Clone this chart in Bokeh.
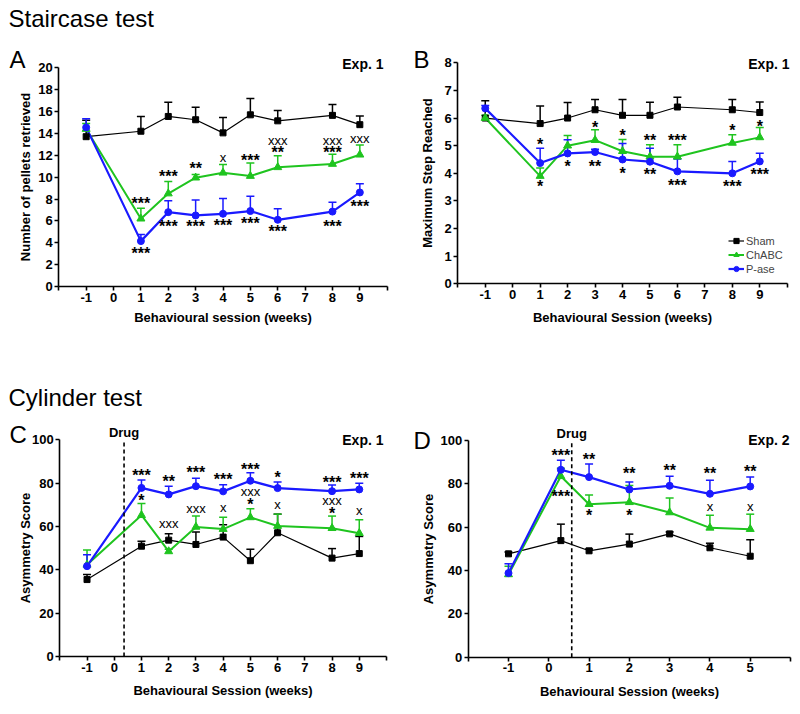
from bokeh.plotting import figure
from bokeh.models import (Range1d, FixedTicker, Whisker, TeeHead, ColumnDataSource,
                          Label, Legend, LegendItem)
from bokeh.layouts import column, row
from bokeh.core.properties import value
from bokeh.embed import file_html
from bokeh.resources import INLINE

FONT = "Liberation Sans"
BLACK = "#000000"
GREEN = "#1fc41f"
BLUE = "#1a1aff"

# ---------------- Panel A: Staircase, pellets retrieved ----------------
a_x = [-1, 1, 2, 3, 4, 5, 6, 8, 9]
a_sham = [13.7, 14.2, 15.55, 15.25, 14.05, 15.7, 15.15, 15.65, 14.8]
a_sham_err = [1.5, 1.35, 1.3, 1.15, 1.4, 1.5, 0.95, 1.0, 0.8]
a_chabc = [14.4, 6.2, 8.5, 9.95, 10.4, 10.1, 10.9, 11.2, 12.05]
a_chabc_err = [0.5, 0.95, 1.1, 0.3, 0.75, 1.2, 1.05, 0.9, 0.9]
a_pase = [14.55, 4.15, 6.8, 6.5, 6.65, 6.9, 6.1, 6.85, 8.6]
a_pase_err = [0.8, 0.6, 1.05, 1.4, 1.4, 1.35, 1.0, 0.85, 0.8]
a_star_x = [1, 1, 2, 2, 3, 3, 4, 5, 5, 6, 6, 8, 8, 9]
a_star_y = [7.9, 3.25, 10.3, 5.75, 11.05, 5.75, 5.85, 11.8, 6.05, 12.5, 5.3, 12.55, 5.8, 7.6]
a_star_t = ["***", "***", "***", "***", "**", "***", "***", "***", "***", "**", "***", "***", "***", "***"]
a_mark_x = [4, 6, 8, 9]
a_mark_y = [11.75, 13.3, 13.3, 13.4]
a_mark_t = ["x", "xxx", "xxx", "xxx"]

# ---------------- Panel B: Staircase, maximum step ----------------
b_x = [-1, 1, 2, 3, 4, 5, 6, 8, 9]
b_sham = [6.0, 5.8, 6.0, 6.3, 6.1, 6.1, 6.4, 6.3, 6.2]
b_sham_err = [0.63, 0.64, 0.56, 0.37, 0.57, 0.47, 0.35, 0.37, 0.38]
b_chabc = [6.0, 3.9, 5.0, 5.2, 4.8, 4.6, 4.6, 5.1, 5.3]
b_chabc_err = [0.1, 0.29, 0.37, 0.38, 0.42, 0.43, 0.43, 0.3, 0.36]
b_pase = [6.35, 4.37, 4.72, 4.77, 4.5, 4.42, 4.07, 4.0, 4.43]
b_pase_err = [0.1, 0.54, 0.49, 0.1, 0.58, 0.49, 0.45, 0.43, 0.3]
b_star_x = [1, 1, 2, 3, 3, 4, 4, 5, 5, 6, 6, 8, 8, 9, 9]
b_star_y = [5.15, 3.62, 4.34, 5.77, 4.34, 5.49, 4.1, 5.31, 4.07, 5.31, 3.68, 5.65, 3.62, 5.79, 4.07]
b_star_t = ["*", "*", "*", "*", "**", "*", "*", "**", "**", "***", "***", "*", "***", "*", "***"]

# ---------------- Panel C: Cylinder, Exp. 1 ----------------
c_x = [-1, 1, 2, 3, 4, 5, 6, 8, 9]
c_sham = [35.5, 50.9, 53.7, 51.7, 55.1, 44.2, 57.1, 45.4, 47.5]
c_sham_err = [2.3, 2.3, 2.9, 5.8, 5.7, 5.3, 8.6, 4.4, 7.9]
c_chabc = [42.3, 65.2, 48.5, 59.8, 58.8, 64.2, 60.2, 59.2, 56.9]
c_chabc_err = [6.9, 5.4, 1.0, 5.0, 5.5, 4.0, 5.5, 5.6, 6.2]
c_pase = [41.7, 77.8, 74.8, 78.6, 76.2, 81.1, 77.7, 76.3, 77.1]
c_pase_err = [5.2, 3.7, 3.8, 3.7, 3.0, 3.7, 2.8, 2.8, 2.9]
c_drug = 0.36
c_star_x = [1, 1, 2, 3, 4, 5, 5, 6, 8, 8, 9]
c_star_y = [85.1, 73.3, 82.0, 86.2, 83.1, 87.7, 71.3, 84.0, 81.6, 67.2, 83.6]
c_star_t = ["***", "*", "**", "***", "***", "***", "*", "*", "***", "*", "***"]
c_mark_x = [2, 3, 4, 5, 6, 8, 9]
c_mark_y = [61.0, 67.8, 68.3, 75.5, 69.8, 71.3, 66.7]
c_mark_t = ["xxx", "xxx", "x", "xxx", "x", "xxx", "x"]

# ---------------- Panel D: Cylinder, Exp. 2 ----------------
d_x = [-1, 0.3, 1, 2, 3, 4, 5]
d_sham = [47.7, 53.8, 49.1, 52.2, 56.9, 50.5, 46.6]
d_sham_err = [0.8, 7.6, 0.8, 4.6, 0.9, 2.1, 7.6]
d_chabc = [38.2, 83.5, 70.6, 71.5, 66.8, 59.7, 59.1]
d_chabc_err = [3.8, 3.7, 4.2, 7.7, 6.7, 5.8, 6.9]
d_pase = [38.8, 86.5, 83.1, 77.4, 79.1, 75.4, 78.8]
d_pase_err = [4.3, 4.4, 6.0, 3.5, 4.4, 6.3, 4.4]
d_drug = 0.57
d_star_x = [0.3, 0.3, 1, 1, 2, 2, 3, 4, 5]
d_star_y = [94.6, 75.7, 92.8, 66.6, 86.2, 66.6, 87.7, 86.2, 86.9]
d_star_t = ["***", "***", "**", "*", "**", "*", "**", "**", "**"]
d_mark_x = [4, 5]
d_mark_y = [69.2, 69.2]
d_mark_t = ["x", "x"]

series_names = ["Sham", "ChABC", "P-ase"]


def ranges(cfg):
    ox, oy, W, H = cfg["fig"]
    L, R, T, B = cfg["box"]
    x0, x1 = cfg["xd"]
    y0, y1 = cfg["yd"]
    sx = (x1 - x0) / (R - L)
    sy = (y1 - y0) / (B - T)
    return ((x0 - (L - ox) * sx, x1 + (ox + W - R) * sx),
            (y0 - (oy + H - B) * sy, y1 + (T - oy) * sy))


def px2data(cfg, px, py):
    L, R, T, B = cfg["box"]
    x0, x1 = cfg["xd"]
    y0, y1 = cfg["yd"]
    sx = (x1 - x0) / (R - L)
    sy = (y1 - y0) / (B - T)
    return x0 + (px - L) * sx, y0 + (B - py) * sy


def add_label(p, cfg, px, py, text, size, bold=False, align="left", x=None):
    dx, dy = px2data(cfg, px, py)
    if x is not None:
        dx = x
    p.add_layout(Label(x=dx, y=dy, text=text, text_font=FONT, text_font_size=size,
                       text_font_style="bold" if bold else "normal",
                       text_align=align, text_baseline="middle", text_color="black"))


def make_panel(cfg, xs, series, xticks, yticks, xlabel, ylabel, stars, marks,
               ylab_standoff, xlab_standoff):
    ox, oy, W, H = cfg["fig"]
    xr, yr = ranges(cfg)
    p = figure(width=W, height=H, x_range=Range1d(*xr), y_range=Range1d(*yr),
               output_backend="svg", toolbar_location=None,
               min_border_left=0, min_border_right=0, min_border_top=0, min_border_bottom=0)
    p.title.visible = False
    p.grid.visible = False
    p.outline_line_color = None
    p.background_fill_color = "white"
    p.border_fill_color = "white"

    for ax in (p.xaxis[0], p.yaxis[0]):
        ax.axis_line_width = 1.6
        ax.axis_line_color = "black"
        ax.major_tick_line_width = 1.6
        ax.major_tick_line_color = "black"
        ax.major_tick_out = 4
        ax.major_tick_in = 0
        ax.minor_tick_line_color = None
        ax.major_label_text_font = FONT
        ax.major_label_text_font_style = "bold"
        ax.major_label_text_font_size = "13px"
        ax.major_label_text_color = "black"
        ax.major_label_standoff = 2
        ax.axis_label_text_font = FONT
        ax.axis_label_text_font_style = "bold"
        ax.axis_label_text_font_size = "13px"
        ax.axis_label_text_color = "black"

    xa = p.xaxis[0]
    xa.fixed_location = cfg["yd"][0]
    xa.bounds = cfg["xd"]
    xa.ticker = FixedTicker(ticks=xticks)
    xa.major_label_overrides = {t: ("" if (t == xticks[0] or t == xticks[-1]) else str(t)) for t in xticks}
    xa.axis_label = xlabel
    xa.axis_label_standoff = xlab_standoff
    ya = p.yaxis[0]
    ya.fixed_location = cfg["xd"][0]
    ya.bounds = cfg["yd"]
    ya.ticker = FixedTicker(ticks=yticks)
    ya.major_label_overrides = {t: str(t) for t in yticks}
    ya.axis_label = ylabel
    ya.axis_label_standoff = ylab_standoff

    styles = [(BLACK, "square", 6, 1.2), (GREEN, "triangle", 8, 2.0), (BLUE, "circle", 7, 2.2)]
    lines_r = []
    for (vals, errs), (color, marker, size, lw) in zip(series, styles):
        src = ColumnDataSource(dict(x=xs, y=vals, up=[v + e for v, e in zip(vals, errs)]))
        p.add_layout(Whisker(source=src, base="x", upper="up", lower="y", dimension="height",
                             line_color=color, line_width=1.5,
                             upper_head=TeeHead(size=8, line_color=color, line_width=1.5),
                             lower_head=None))
        lines_r.append(p.line("x", "y", source=src, line_color=color, line_width=lw))
    marks_r = []
    for (vals, errs), (color, marker, size, lw) in zip(series, styles):
        src = ColumnDataSource(dict(x=xs, y=vals))
        marks_r.append(p.scatter("x", "y", source=src, marker=marker, size=size,
                                 fill_color=color, line_color=color))

    sx, sy, st = stars
    p.text(x="x", y="y", text="t", source=ColumnDataSource(dict(x=sx, y=sy, t=st)),
           text_font=value(FONT), text_font_size=value("16px"), text_font_style="bold",
           text_align="center", text_baseline="middle", y_offset=3, text_color="black")
    if marks is not None:
        mx, my, mt = marks
        p.text(x="x", y="y", text="t", source=ColumnDataSource(dict(x=mx, y=my, t=mt)),
               text_font=value(FONT), text_font_size=value("13px"), text_align="center",
               text_baseline="middle", y_offset=-1, text_color="black")
    return p, lines_r, marks_r


def add_drug_line(p, cfg, x):
    y0, y1 = cfg["yd"]
    p.segment(x0=[x], y0=[y0], x1=[x], y1=[y1], line_color="black",
              line_dash="4 3", line_width=1.6)


# figure page rect (x, y, w, h) and axis box (left, right, top, bottom) in page pixels
cfgA = dict(fig=(0, 0, 400, 380), box=(58.3, 386.7, 67.3, 286.0), xd=(-2, 10), yd=(0, 20))
cfgB = dict(fig=(400, 0, 400, 380), box=(457.3, 786.7, 62.3, 283.3), xd=(-2, 10), yd=(0, 8))
cfgC = dict(fig=(0, 380, 400, 334), box=(59.3, 386.0, 439.3, 656.0), xd=(-2, 10), yd=(0, 100))
cfgD = dict(fig=(400, 380, 400, 334), box=(467.7, 790.0, 440.0, 656.7), xd=(-2, 6), yd=(0, 100))

xt10 = list(range(-2, 11))
xt6 = list(range(-2, 7))

pA, _, _ = make_panel(cfgA, a_x, [(a_sham, a_sham_err), (a_chabc, a_chabc_err), (a_pase, a_pase_err)],
                      xt10, list(range(0, 21, 2)), "Behavioural session (weeks)",
                      "Number of pellets retrieved", (a_star_x, a_star_y, a_star_t),
                      (a_mark_x, a_mark_y, a_mark_t), 2, 5)
add_label(pA, cfgA, 8, 17.5, "Staircase test", "24px")
add_label(pA, cfgA, 9, 58.5, "A", "24px")
add_label(pA, cfgA, 383, 63, "Exp. 1", "14px", bold=True, align="right")

pB, linesB, marksB = make_panel(cfgB, b_x, [(b_sham, b_sham_err), (b_chabc, b_chabc_err), (b_pase, b_pase_err)],
                                xt10, list(range(0, 9)), "Behavioural Session (weeks)",
                                "Maximum Step Reached", (b_star_x, b_star_y, b_star_t), None, 6, 8)
add_label(pB, cfgB, 413, 59, "B", "24px")
add_label(pB, cfgB, 789, 63, "Exp. 1", "14px", bold=True, align="right")
legend = Legend(items=[LegendItem(label=n, renderers=[l, m]) for n, l, m in zip(series_names, linesB, marksB)],
                location=(328, 105), label_text_font=FONT, label_text_font_size="11px",
                glyph_width=16, glyph_height=13, label_height=13, label_standoff=2,
                spacing=1, padding=2, margin=0, border_line_color=None,
                background_fill_alpha=0)
pB.add_layout(legend)

pC, _, _ = make_panel(cfgC, c_x, [(c_sham, c_sham_err), (c_chabc, c_chabc_err), (c_pase, c_pase_err)],
                      xt10, list(range(0, 101, 20)), "Behavioural Session (weeks)",
                      "Asymmetry Score", (c_star_x, c_star_y, c_star_t),
                      (c_mark_x, c_mark_y, c_mark_t), -4, 8)
add_drug_line(pC, cfgC, c_drug)
add_label(pC, cfgC, 8, 397, "Cylinder test", "24px")
add_label(pC, cfgC, 9, 433.5, "C", "24px")
add_label(pC, cfgC, 0, 432, "Drug", "13px", bold=True, align="center", x=c_drug)
add_label(pC, cfgC, 383, 439.5, "Exp. 1", "14px", bold=True, align="right")

pD, _, _ = make_panel(cfgD, d_x, [(d_sham, d_sham_err), (d_chabc, d_chabc_err), (d_pase, d_pase_err)],
                      xt6, list(range(0, 101, 20)), "Behavioural Session (weeks)",
                      "Asymmetry Score", (d_star_x, d_star_y, d_star_t),
                      (d_mark_x, d_mark_y, d_mark_t), 2, 8)
add_drug_line(pD, cfgD, d_drug)
add_label(pD, cfgD, 413, 440, "D", "24px")
add_label(pD, cfgD, 0, 432.5, "Drug", "13px", bold=True, align="center", x=d_drug)
add_label(pD, cfgD, 789, 439.5, "Exp. 2", "14px", bold=True, align="right")

layout = column(row(pA, pB), row(pC, pD))
open("out.html", "w").write(file_html(layout, INLINE))
